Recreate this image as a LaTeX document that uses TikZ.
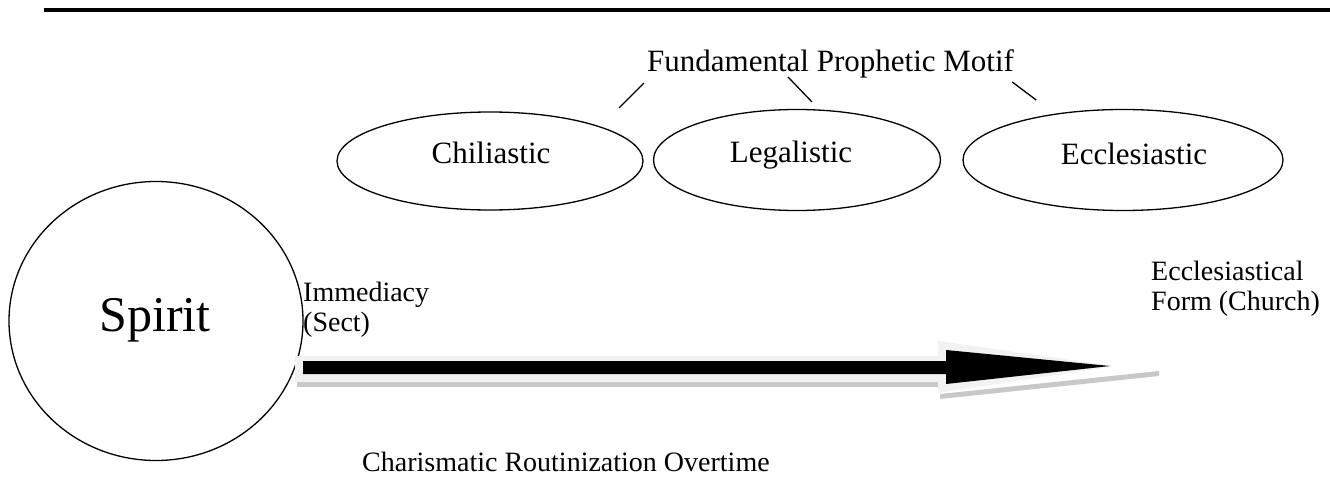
\documentclass[tikz,border=0pt]{standalone}
\usepackage{fontspec}
\setmainfont{Liberation Serif}
\usetikzlibrary{shapes.geometric}
\definecolor{shadowgray}{HTML}{C8C8C8}
\definecolor{lightgray}{HTML}{F2F2F2}
\begin{document}
\begin{tikzpicture}[x=1pt,y=-1pt,
  oval/.style={draw,line width=1.3pt,ellipse,inner sep=0pt},
  lbl/.style={font=\fontsize{31}{35}\selectfont,inner sep=0pt},
  side/.style={font=\fontsize{28}{29.5}\selectfont,inner sep=0pt,align=left,anchor=north west},
  tick/.style={line width=1.3pt}]
\useasboundingbox (0,0) rectangle (1330,489);
% top rule
\draw[line width=4pt] (44,10) -- (1330,10);
% ellipses
\node[oval,minimum width=306pt,minimum height=98pt] (chil) at (490,161) {};
\node[oval,minimum width=287pt,minimum height=101pt] (legal) at (797,160) {};
\node[oval,minimum width=320pt,minimum height=101pt] (eccl) at (1123,160) {};
\node[lbl,anchor=base] (chilT) at (491,164) {Chiliastic};
\node[lbl,anchor=base] (legalT) at (791,163) {Legalistic};
\node[lbl,anchor=base] (ecclT) at (1134,165) {Ecclesiastic};
% motif label
\node[lbl,anchor=base west] (motif) at (647,72) {Fundamental Prophetic Motif};
\coordinate (t1a) at (644,83); \coordinate (t1b) at (619,108);
\coordinate (t2a) at (788,77); \coordinate (t2b) at (812,102);
\coordinate (t3a) at ([xshift=-2pt,yshift=-10pt]motif.base east);
\coordinate (t3b) at ([xshift=22pt,yshift=-28pt]motif.base east);
\draw[tick] (t1a) -- (t1b);
\draw[tick] (t2a) -- (t2b);
\draw[tick] (t3a) -- (t3b);
% spirit
\node[oval,minimum width=294pt,minimum height=279pt] (spirit) at (156,321) {};
\node[font=\fontsize{50}{54}\selectfont,inner sep=0pt,anchor=base] (spiritT) at (155,331) {Spirit};
% arrow: shadow, light outline, black body
\fill[shadowgray] (297,382) -- (938,382) -- (938,387) -- (297,387) -- cycle;
\fill[shadowgray] (940,394) -- (1159,371) -- (1159,376) -- (940,399) -- cycle;
\fill[lightgray] (295,356) -- (938,356) -- (938,341) -- (1115,366) -- (938,393) -- (938,382) -- (295,382) -- cycle;
\fill[black] (303,361) -- (946,361) -- (946,350) -- (1110,366) -- (946,384) -- (946,374) -- (303,374) -- cycle;
% side labels
\node[side] (imm) at (303,282) {Immediacy\\(Sect)};
\node[side] (ecf) at (1151,261) {Ecclesiastical\\Form (Church)};
\node[side,anchor=base west] (char) at (362,471) {Charismatic Routinization Overtime};
\end{tikzpicture}
\end{document}
